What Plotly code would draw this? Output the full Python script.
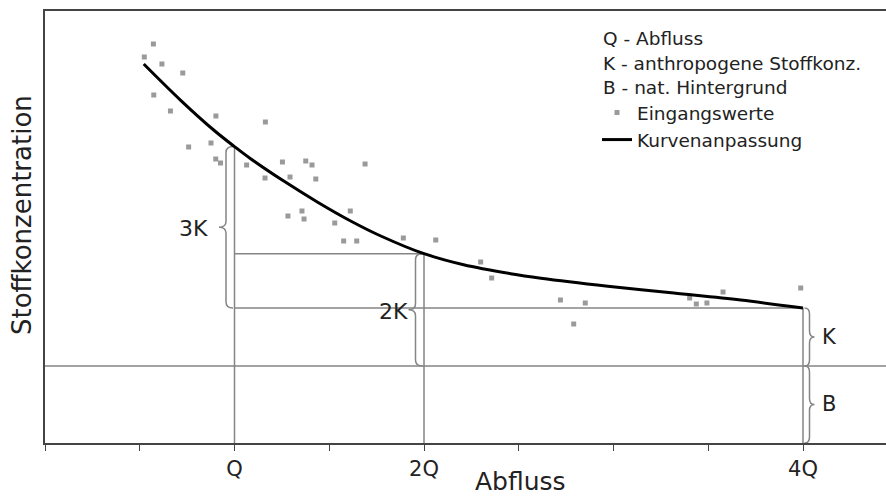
import plotly.graph_objects as go

# ---- data (x in units of Q, y in arbitrary concentration units)
abfluss_fit = [0.521, 0.716, 0.890, 1.0, 1.085, 1.260, 1.439, 1.613, 1.772, 2.0, 2.209,
               2.457, 2.617, 2.970, 3.318, 3.671, 4.0]
konz_fit = [37.9, 34.27, 31.3, 29.64, 28.43, 26.19, 24.08, 22.2, 20.7, 18.93, 17.82,
            16.93, 16.48, 15.68, 14.99, 14.29, 13.5]

abfluss_werte = [0.572, 0.524, 0.617, 0.727, 0.574, 0.662, 0.902, 1.163, 0.758, 0.876,
                 0.901, 0.926, 1.064, 1.161, 1.253, 1.376, 1.409, 1.293, 1.429, 1.689,
                 1.282, 1.356, 1.367, 1.529, 1.611, 1.576, 1.645, 1.891, 2.062, 2.299,
                 2.357, 2.720, 2.851, 2.790, 3.402, 3.437, 3.493, 3.578, 3.988]
konz_werte = [39.9, 38.6, 37.9, 37.0, 34.8, 33.2, 32.7, 32.1, 29.6, 30.0,
              28.4, 28.0, 27.8, 26.5, 28.1, 28.2, 27.8, 26.6, 26.4, 27.9,
              22.7, 23.2, 22.4, 22.0, 23.2, 20.2, 20.2, 20.5, 20.3, 18.1,
              16.5, 14.3, 14.0, 11.9, 14.5, 13.9, 14.0, 15.1, 15.5]

hintergrund = 7.7                 # B level
q_werte = [1, 2, 4]               # Q, 2Q, 4Q
q_konz = [29.64, 18.93, 13.5]     # curve value at Q, 2Q, 4Q

tick_vals = [0, 0.5, 1, 1.5, 2, 2.5, 3, 3.5, 4]
tick_text = ["", "", "Q", "", "2Q", "", "", "", "4Q"]

legend_lines = ["Q - Abfluss", "K - anthropogene Stoffkonz.", "B - nat. Hintergrund"]

X_MAX = 4.438
Y_MAX = 43.2
PX_X = 189.5   # pixels per x unit
PX_Y = 10.0    # pixels per y unit
FONT = "DejaVu Sans, Verdana, sans-serif"
GREY = "#858585"

fig = go.Figure()
fig.add_trace(go.Scatter(
    x=abfluss_werte, y=konz_werte, mode="markers", name="Eingangswerte",
    marker=dict(symbol="square", size=5, color="#9a9a9a"),
))
fig.add_trace(go.Scatter(
    x=abfluss_fit, y=konz_fit, mode="lines", name="Kurvenanpassung",
    line=dict(color="black", width=3, shape="spline", smoothing=1.0),
))

shapes = []
def hline(y, x0, x1):
    shapes.append(dict(type="line", xref="x", yref="y", x0=x0, x1=x1, y0=y, y1=y,
                       line=dict(color=GREY, width=1.5), layer="below"))
def vline(x, y0, y1):
    shapes.append(dict(type="line", xref="x", yref="y", x0=x, x1=x, y0=y0, y1=y1,
                       line=dict(color=GREY, width=1.5), layer="below"))
def brace(x0_px_off, xq, ya, yb, side, h_px, w_px, r_px=6):
    x0 = xq + x0_px_off / PX_X
    xb = x0 + side * h_px / PX_X
    xt = x0 + side * w_px / PX_X
    ym = (ya + yb) / 2
    r = r_px / PX_Y
    path = (f"M {x0},{ya} Q {xb},{ya} {xb},{ya - r} L {xb},{ym + r} "
            f"Q {xb},{ym} {xt},{ym} Q {xb},{ym} {xb},{ym - r} "
            f"L {xb},{yb + r} Q {xb},{yb} {x0},{yb}")
    shapes.append(dict(type="path", xref="x", yref="y", path=path,
                       line=dict(color=GREY, width=1.5), layer="below"))

hline(hintergrund, 0, X_MAX)
hline(q_konz[2], q_werte[0], q_werte[2])
hline(q_konz[1], q_werte[0], q_werte[1])
for xq, yq in zip(q_werte, q_konz):
    vline(xq, 0, yq)

brace(-1.5, q_werte[0], q_konz[0], q_konz[2], -1, 7, 14)
brace(-1.5, q_werte[1], q_konz[1], hintergrund, -1, 7, 14)
brace(1.5, q_werte[2], q_konz[2], hintergrund, 1, 5, 10)
brace(1.5, q_werte[2], hintergrund, 0, 1, 5, 10)

annotations = [
    dict(x=(193 - 44.3) / PX_X, y=(443 - 228) / PX_Y, text="3K", showarrow=False,
         font=dict(size=22, color="#222")),
    dict(x=(393 - 44.3) / PX_X, y=(443 - 311) / PX_Y, text="2K", showarrow=False,
         font=dict(size=22, color="#222")),
    dict(x=(819 - 44.3) / PX_X, y=(443 - 337) / PX_Y, text="K", showarrow=False,
         xanchor="left", font=dict(size=21, color="#222")),
    dict(x=(819 - 44.3) / PX_X, y=(443 - 404) / PX_Y, text="B", showarrow=False,
         xanchor="left", font=dict(size=21, color="#222")),
    dict(xref="paper", yref="paper", x=(520 - 45) / 841, y=-(482 - 443) / 432,
         xanchor="center", yanchor="middle",
         text="Abfluss", showarrow=False, font=dict(size=25, color="#222")),
    dict(xref="paper", yref="paper", x=-(45 - 22) / 841, y=(443 - 215) / 432,
         xanchor="center", yanchor="middle",
         text="Stoffkonzentration", textangle=-90, showarrow=False,
         font=dict(size=26, color="#222")),
]
for i, t in enumerate(legend_lines):
    annotations.append(dict(xref="paper", yref="paper", x=(601 - 45) / 841,
                            y=(443 - (39 + 24.5 * i)) / 432, text=t, showarrow=False,
                            xanchor="left", yanchor="middle",
                            font=dict(size=18.5, color="#222")))

fig.update_layout(
    width=886, height=497, autosize=False,
    margin=dict(l=45, r=0, t=11, b=54),
    paper_bgcolor="white", plot_bgcolor="white",
    font=dict(family=FONT, color="#222"),
    shapes=shapes, annotations=annotations,
    showlegend=True,
    legend=dict(x=(597 - 45) / 841, y=(443 - 94) / 432, xanchor="left", yanchor="top",
                font=dict(size=18.5, color="#222"), bgcolor="rgba(0,0,0,0)",
                tracegroupgap=0),
    xaxis=dict(range=[0, X_MAX], showline=True, linecolor="#444", linewidth=1.5,
               mirror=True, ticks="outside", ticklen=6, tickcolor="#444",
               tickvals=tick_vals, ticktext=tick_text, tickfont=dict(size=21),
               showgrid=False, zeroline=False, fixedrange=True),
    yaxis=dict(range=[0, Y_MAX], showline=True, linecolor="#444", linewidth=1.5,
               showticklabels=False, ticks="", showgrid=False, zeroline=False,
               fixedrange=True),
)

fig.write_html("out.html", config={"displayModeBar": False},
               post_script="document.body.style.margin='0';document.body.style.overflow='hidden';")
